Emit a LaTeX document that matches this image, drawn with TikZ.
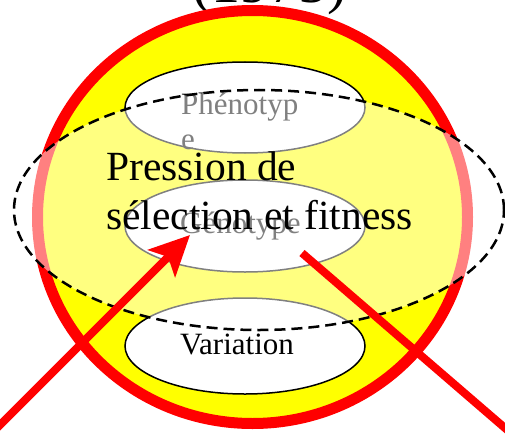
\documentclass[tikz,border=0pt]{standalone}
\usepackage{fontspec}
\setmainfont{Liberation Serif}
\usetikzlibrary{arrows.meta,shapes.geometric}
\definecolor{bodyfill}{RGB}{255,255,0}
\definecolor{bodyrim}{RGB}{255,0,0}
\begin{document}
\begin{tikzpicture}[x=1pt,y=-1pt,
  world/.style={ellipse, draw=bodyrim, fill=bodyfill, line width=11pt, inner sep=0pt,
    minimum width=430pt, minimum height=413pt},
  cell/.style={ellipse, draw=black, fill=white, line width=1.5pt, inner sep=0pt,
    minimum width=240pt},
  celltext/.style={anchor=base west, inner sep=0pt, text=black,
    font=\fontsize{31}{35}\selectfont},
  pressure/.style={ellipse, draw=black, line width=2.5pt, dash pattern=on 11pt off 6pt,
    fill=white, fill opacity=0.5, draw opacity=1, inner sep=0pt,
    minimum width=490pt, minimum height=240pt},
  bigtext/.style={anchor=base west, inner sep=0pt, font=\fontsize{41.5}{47}\selectfont},
  redline/.style={draw=bodyrim, fill=bodyrim, line width=8pt}
]
\clip (0,0) rectangle (505,433);
\useasboundingbox (0,0) rectangle (505,433);

% year heading, mostly above the frame
\node[anchor=base, inner sep=0pt, font=\fontsize{58}{60}\selectfont] (year) at (269.5,3) {(1975)};

% the organism
\node[world] (org) at (252.5,217) {};

% three levels
\node[cell, minimum height=91pt] (pheno) at (245,107.5) {};
\node[celltext] (phenoA) at (181,114) {Phénotyp};
\node[celltext] (phenoB) at (181,149) {e};

\node[cell, minimum height=92pt] (geno) at (245,226) {};
\node[celltext] (genoT) at (180,233) {Génotype};

\node[cell, minimum height=96pt] (vari) at (245,346) {};
\node[celltext] (variT) at (180,354) {Variation};

% selective pressure veil
\node[pressure] (press) at (259,210) {};
\node[bigtext] (pressA) at (106,180) {Pression de};
\node[bigtext] (pressB) at (106,229) {sélection et fitness};

% red strokes
\coordinate (inA) at (-20,445);
\coordinate (inB) at (190,235);
\draw[redline, -{Stealth[length=40pt, width=38pt, inset=9pt]}] (inA) -- (inB);
\coordinate (outA) at (302,253);
\coordinate (outB) at (527,447);
\draw[redline] (outA) -- (outB);
\end{tikzpicture}
\end{document}
